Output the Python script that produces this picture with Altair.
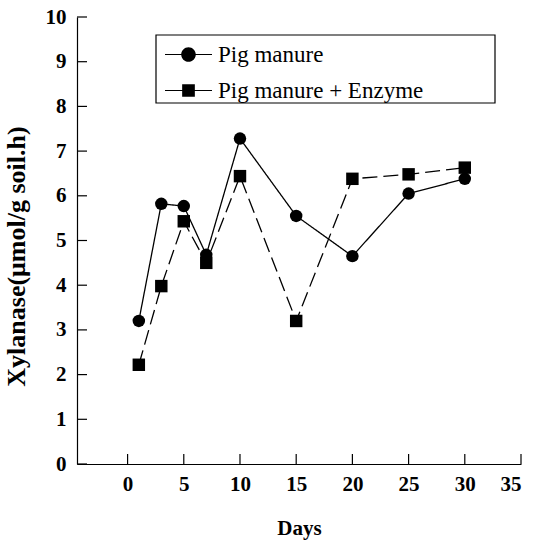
import altair as alt
import pandas as pd

# ---- data ----
days = [1, 3, 5, 7, 10, 15, 20, 25, 30]
pig_manure = [3.2, 5.82, 5.77, 4.68, 7.28, 5.55, 4.65, 6.05, 6.38]
pig_manure_enzyme = [2.22, 3.98, 5.43, 4.5, 6.44, 3.2, 6.38, 6.48, 6.63]
series_names = ["Pig manure", "Pig manure + Enzyme"]
x_ticks = [0, 5, 10, 15, 20, 25, 30, 35]
y_ticks = [0, 1, 2, 3, 4, 5, 6, 7, 8, 9, 10]

rows = []
for d, a, b in zip(days, pig_manure, pig_manure_enzyme):
    rows.append({"day": d, "value": a, "series": series_names[0]})
    rows.append({"day": d, "value": b, "series": series_names[1]})
df = pd.DataFrame(rows)

W, H = 444, 447
FONT = "Liberation Serif"

xscale = alt.Scale(domain=[-4.5, 35], nice=False, zero=False)
yscale = alt.Scale(domain=[0, 10], nice=False, zero=False)

x_axis = alt.Axis(
    values=x_ticks, tickSize=0, labelPadding=9, grid=False,
    labelFont=FONT, labelFontSize=21, labelFontWeight="bold", labelColor="black",
    title="Days", titleFont=FONT, titleFontSize=21, titleFontWeight="bold",
    titleColor="black", titleY=64, titleBaseline="middle",
    domainColor="black", domainWidth=1.2,
)
y_axis = alt.Axis(
    values=y_ticks, tickSize=0, labelPadding=11, grid=False,
    labelFont=FONT, labelFontSize=21, labelFontWeight="bold", labelColor="black",
    title="Xylanase(μmol/g soil.h)", titleFont=FONT, titleFontSize=26,
    titleFontWeight="bold", titleColor="black", titleX=-61, titleY=239,
    titleBaseline="middle",
    domainColor="black", domainWidth=1.2,
)

base = alt.Chart(df)

lines = base.mark_line(color="black", strokeWidth=1.3).encode(
    x=alt.X("day:Q", scale=xscale, axis=x_axis),
    y=alt.Y("value:Q", scale=yscale, axis=y_axis),
    strokeDash=alt.StrokeDash(
        "series:N",
        scale=alt.Scale(domain=series_names, range=[[1, 0], [15, 6]]),
        legend=None,
    ),
    detail="series:N",
)

points = base.mark_point(filled=True, color="black", opacity=1, size=155).encode(
    x=alt.X("day:Q", scale=xscale, axis=x_axis),
    y=alt.Y("value:Q", scale=yscale, axis=y_axis),
    shape=alt.Shape(
        "series:N",
        scale=alt.Scale(domain=series_names, range=["circle", "square"]),
        legend=None,
    ),
)

# tick marks pointing inward
ytick_layer = alt.Chart(pd.DataFrame({"t": y_ticks})).mark_rule(
    color="black", strokeWidth=1.2
).encode(
    y=alt.Y("t:Q", scale=yscale, axis=y_axis),
    x=alt.value(0), x2=alt.value(10),
)
xtick_layer = alt.Chart(pd.DataFrame({"t": x_ticks})).mark_rule(
    color="black", strokeWidth=1.2
).encode(
    x=alt.X("t:Q", scale=xscale, axis=x_axis),
    y=alt.value(H), y2=alt.value(H - 10),
)

# legend (symbol = line through marker)
circle_sym = ("M-1,-0.026H-0.3V0.026H-1Z M0.3,-0.026H1V0.026H0.3Z "
              "M0.31,0A0.31,0.31 0 1,1 -0.31,0A0.31,0.31 0 1,1 0.31,0Z")
square_sym = ("M-1,-0.026H-0.26V0.026H-1Z M0.26,-0.026H1V0.026H0.26Z "
              "M-0.27,-0.27H0.27V0.27H-0.27Z")

legend_layer = alt.Chart(pd.DataFrame({"series": series_names})).transform_filter(
    "false"
).mark_point(filled=True, color="black", opacity=1, size=2209).encode(
    shape=alt.Shape(
        "series:N",
        scale=alt.Scale(domain=series_names, range=[circle_sym, square_sym]),
        legend=alt.Legend(
            title=None, orient="none", legendX=88, legendY=14,
            labelFont=FONT, labelFontSize=23, labelColor="black",
            labelOffset=6, rowPadding=0, padding=0, labelLimit=400,
            symbolSize=2209, symbolFillColor="black", symbolStrokeWidth=0,
        ),
    ),
)

legend_box = alt.Chart(pd.DataFrame({"k": [0]})).mark_rect(
    fillOpacity=0, stroke="black", strokeWidth=1.2
).encode(
    x=alt.value(79), x2=alt.value(418), y=alt.value(18), y2=alt.value(86),
)

chart = alt.layer(
    legend_box, ytick_layer, xtick_layer, lines, points, legend_layer
).resolve_scale(shape="independent").properties(
    width=W, height=H,
    padding={"left": 77, "top": 17, "right": 12, "bottom": 80},
    autosize=alt.AutoSizeParams(type="none"),
    background="white",
).configure_view(strokeWidth=0)

chart.save("out.html", embed_options={"renderer": "svg", "actions": False})
